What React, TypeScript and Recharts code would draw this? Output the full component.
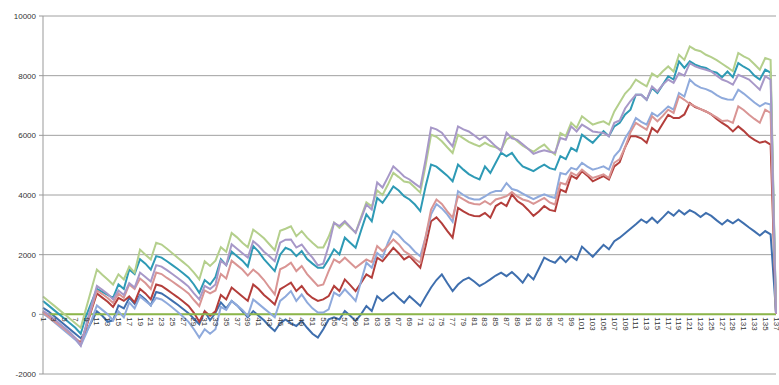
import React from 'react';
import { LineChart, Line, XAxis, YAxis, CartesianGrid } from 'recharts';

const WIDTH = 779;
const HEIGHT = 385;
const MARGIN = { top: 16, right: 3, bottom: 10, left: 0 };
const X_AXIS_HEIGHT = 1;
const Y_MIN = -2000;
const Y_MAX = 10000;
const Y_TICKS = [-2000, 0, 2000, 4000, 6000, 8000, 10000];
// the category labels sit under the 0 line, like Excel's crossing axis
const PLOT_BOTTOM = HEIGHT - MARGIN.bottom - X_AXIS_HEIGHT;
const ZERO_Y = MARGIN.top + (PLOT_BOTTOM - MARGIN.top) * (Y_MAX / (Y_MAX - Y_MIN));
const FONT = "'Liberation Sans', Arial, sans-serif";

const CATEGORIES = [
  1, 2, 3, 4, 5, 6, 7, 8, 9, 10,
  11, 12, 13, 14, 15, 16, 17, 18, 19, 20,
  21, 22, 23, 24, 25, 26, 27, 28, 29, 30,
  31, 32, 33, 34, 35, 36, 37, 38, 39, 40,
  41, 42, 43, 44, 45, 46, 47, 48, 49, 50,
  51, 52, 53, 54, 55, 56, 57, 58, 59, 60,
  61, 62, 63, 64, 65, 66, 67, 68, 69, 70,
  71, 72, 73, 74, 75, 76, 77, 78, 79, 80,
  81, 82, 83, 84, 85, 86, 87, 88, 89, 90,
  91, 92, 93, 94, 95, 96, 97, 98, 99, 100,
  101, 102, 103, 104, 105, 106, 107, 108, 109, 110,
  111, 112, 113, 114, 115, 116, 117, 118, 119, 120,
  121, 122, 123, 124, 125, 126, 127, 128, 129, 130,
  131, 132, 133, 134, 135, 136, 137,
];

const BLUE = [
  220, 100, -50, -200, -350, -500, -650, -800, -600, -250,
  100, -50, -250, -200, 300, 200, 550, 350, 650, 500,
  300, 750, 700, 580, 450, 320, 180, 40, -150, -330,
  100, -200, 50, 400, 200, 450, 300, 100, -100, 110,
  -50, -200, -400, -560, -300, -170, -300, -390, -220, -450,
  -650, -780, -500, -170, -100, -170, 110, -50, -220, 0,
  280, 110, 610, 450, 600, 730, 550, 390, 610, 450,
  280, 600, 900, 1150, 1340, 1050, 780, 1000, 1150, 1230,
  1100, 950, 1050, 1170, 1300, 1400, 1280, 1420, 1250, 1060,
  1340, 1170, 1530, 1900, 1800, 1730, 1930, 1750, 1950, 1820,
  2270, 2100, 1930, 2130, 2330, 2180, 2450, 2570, 2720, 2870,
  3020, 3180, 3070, 3240, 3070, 3250, 3440, 3310, 3490, 3350,
  3490, 3400, 3260, 3400, 3300, 3150, 3010, 3160, 3050, 3180,
  3050, 2910, 2780, 2640, 2790, 2680, 60,
];

const RED = [
  90, -50, -200, -350, -500, -650, -800, -950, -450, 150,
  700, 560, 420, 250, 550, 450, 600, 400, 850, 700,
  500, 1000, 950, 830, 700, 570, 430, 280, 50, -250,
  100, -50, 100, 650, 500, 900, 750, 600, 450, 1000,
  850, 650, 500, 330, 840, 950, 1060, 780, 950, 700,
  550, 450, 500, 610, 950, 780, 1170, 980, 780, 1050,
  1340, 1230, 1900, 1780, 2000, 2230, 2050, 1840, 1950, 1750,
  1560, 2300, 3120, 3250, 3050, 2800, 2570, 3570, 3450, 3350,
  3300, 3290, 3400, 3240, 3630, 3740, 3630, 4020, 3800, 3680,
  3500, 3300, 3450, 3630, 3500, 3460, 4180, 4100, 4650, 4550,
  4800, 4650, 4460, 4550, 4630, 4520, 4960, 5100, 5600, 5970,
  5970, 5900, 5750, 6250, 6100, 6400, 6690, 6580, 6580, 6700,
  7080, 6950, 6880, 6800, 6700, 6550, 6420, 6300, 6130, 6300,
  6150, 5970, 5850, 5750, 5800, 5690, 10,
];

const ZERO_LINE = [
  0, 0, 0, 0, 0, 0, 0, 0, 0, 0,
  0, 0, 0, 0, 0, 0, 0, 0, 0, 0,
  0, 0, 0, 0, 0, 0, 0, 0, 0, 0,
  0, 0, 0, 0, 0, 0, 0, 0, 0, 0,
  0, 0, 0, 0, 0, 0, 0, 0, 0, 0,
  0, 0, 0, 0, 0, 0, 0, 0, 0, 0,
  0, 0, 0, 0, 0, 0, 0, 0, 0, 0,
  0, 0, 0, 0, 0, 0, 0, 0, 0, 0,
  0, 0, 0, 0, 0, 0, 0, 0, 0, 0,
  0, 0, 0, 0, 0, 0, 0, 0, 0, 0,
  0, 0, 0, 0, 0, 0, 0, 0, 0, 0,
  0, 0, 0, 0, 0, 0, 0, 0, 0, 0,
  0, 0, 0, 0, 0, 0, 0, 0, 0, 0,
  0, 0, 0, 0, 0, 0, 0,
];

const TEAL = [
  450, 300, 150, 0, -150, -300, -450, -650, -50, 400,
  850, 750, 650, 550, 1000, 850, 1500, 1350, 1850, 1700,
  1500, 1950, 1900, 1780, 1650, 1520, 1380, 1230, 1000, 720,
  1150, 1000, 1250, 1850, 1650, 2100, 1950, 1800, 1600, 2290,
  2100, 1850, 1650, 1450, 2000, 2230, 2150, 1950, 2120, 1850,
  1700, 1560, 1560, 1850, 2180, 2010, 2570, 2400, 2230, 2800,
  3350, 3120, 3900, 3740, 4000, 4290, 4150, 3960, 3850, 3680,
  3460, 4300, 5020, 4950, 4800, 4650, 4460, 5020, 4850, 4700,
  4600, 4520, 4960, 4740, 5080, 5420, 5300, 5410, 5150, 4960,
  4880, 4800, 4920, 5020, 4900, 4850, 5300, 5200, 5580, 5470,
  6020, 5880, 5750, 5950, 6140, 5970, 6300, 6420, 6700, 6860,
  7360, 7360, 7190, 7590, 7420, 7700, 7980, 7870, 8480, 8260,
  8480, 8370, 8300, 8260, 8150, 8100, 7950, 8140, 7950, 8420,
  8300, 8200, 8000, 7870, 8200, 8100, 40,
];

const LIGHT_BLUE = [
  30, -100, -250, -400, -550, -700, -850, -1050, -650, -200,
  300, 150, 0, -200, 100, -100, 400, 200, 600, 450,
  300, 550, 500, 370, 230, 80, -80, -250, -500, -780,
  -500, -650, -500, 250, 150, 450, 300, 150, -50, 500,
  350, 200, 50, -100, 450, 600, 780, 450, 670, 400,
  200, 60, 60, 170, 730, 620, 840, 650, 450, 1100,
  1730, 1560, 2060, 1900, 2400, 2790, 2650, 2450, 2300, 2100,
  1950, 2600, 3350, 3700, 3550, 3350, 3100, 4130, 4000, 3900,
  3850, 3850, 3950, 4070, 4130, 4130, 4400, 4200, 4150, 4050,
  3950, 3860, 3950, 4020, 3950, 3900, 4740, 4690, 4910, 4850,
  5080, 4950, 4850, 4900, 4960, 4850, 5300, 5500, 5900, 6190,
  6580, 6450, 6360, 6750, 6640, 6800, 6970, 6860, 7420, 7300,
  7870, 7700, 7600, 7550, 7470, 7350, 7250, 7200, 7190, 7530,
  7400, 7250, 7100, 6970, 7080, 7030, 60,
];

const PINK = [
  60, -80, -220, -360, -500, -650, -800, -1000, -400, 200,
  800, 680, 550, 380, 700, 550, 1000, 850, 1200, 1050,
  850, 1400, 1350, 1220, 1100, 970, 840, 700, 480, 280,
  800, 700, 800, 1350, 1200, 1800, 1650, 1500, 1300, 1500,
  1350, 1150, 900, 670, 1510, 1600, 1730, 1450, 1620, 1350,
  1150, 950, 1000, 1450, 1840, 1730, 1900, 1730, 1560, 1700,
  1840, 1750, 2290, 2120, 2300, 2510, 2350, 2120, 2000, 1850,
  1730, 2600, 3510, 3850, 3700, 3450, 3240, 3960, 3850, 3750,
  3700, 3680, 3790, 3680, 3850, 3900, 3960, 4100, 3950, 3850,
  3800, 3700, 3800, 3900, 3750, 3680, 4410, 4350, 4750, 4650,
  4850, 4700, 4570, 4630, 4690, 4570, 5080, 5200, 5600, 6100,
  6420, 6300, 6190, 6640, 6470, 6650, 6860, 6750, 7310, 7190,
  7050, 6970, 6880, 6800, 6700, 6600, 6480, 6500, 6420, 6970,
  6850, 6690, 6550, 6420, 6860, 6750, 20,
];

const LIGHT_GREEN = [
  600, 450, 300, 150, 0, -150, -300, -450, 200, 850,
  1500, 1330, 1170, 1000, 1340, 1170, 1600, 1400, 2170, 2000,
  1840, 2400, 2340, 2200, 2050, 1900, 1750, 1600, 1400, 1170,
  1780, 1620, 1800, 2250, 2100, 2730, 2580, 2400, 2250, 2840,
  2700, 2550, 2350, 2150, 2800, 2870, 2950, 2620, 2790, 2570,
  2400, 2240, 2240, 2600, 3080, 2900, 3080, 2900, 2740, 3250,
  3750, 3620, 4150, 4000, 4350, 4740, 4600, 4450, 4420, 4250,
  4080, 5000, 6020, 5950, 5800, 5600, 5410, 6020, 5900, 5780,
  5700, 5630, 5750, 5650, 5600, 5520, 5860, 5970, 5800, 5650,
  5550, 5450, 5580, 5690, 5500, 5360, 6080, 5970, 6420, 6250,
  6640, 6500, 6360, 6420, 6470, 6360, 6800, 7100, 7400, 7590,
  7870, 7750, 7640, 8070, 7960, 8150, 8310, 8140, 8700, 8530,
  8980, 8870, 8820, 8700, 8620, 8520, 8400, 8280, 8150, 8760,
  8650, 8560, 8380, 8200, 8590, 8530, 50,
];

const LAVENDER = [
  120, 0, -150, -300, -450, -600, -800, -1050, -350, 300,
  950, 820, 680, 500, 800, 650, 1050, 900, 1400, 1250,
  1100, 1650, 1600, 1480, 1350, 1220, 1080, 930, 700, 500,
  950, 850, 1000, 1800, 1650, 2350, 2200, 2050, 1900, 2450,
  2300, 2100, 1950, 1780, 2400, 2500, 2510, 2240, 2340, 2100,
  1900, 1640, 1700, 2300, 3070, 2960, 3120, 2930, 2730, 3200,
  3680, 3510, 4420, 4250, 4600, 4960, 4800, 4620, 4520, 4380,
  4250, 5200, 6260, 6200, 6090, 5850, 5630, 6300, 6200, 6130,
  6000, 5860, 5970, 5800, 5630, 5470, 6090, 5900, 5850, 5700,
  5550, 5380, 5450, 5500, 5450, 5410, 5910, 5850, 6300, 6130,
  6360, 6250, 6130, 6100, 6080, 5970, 6420, 6500, 6900, 7150,
  7360, 7360, 7190, 7640, 7470, 7700, 7870, 7760, 8090, 8000,
  8420, 8310, 8250, 8200, 8140, 8000, 7870, 7800, 7700, 8030,
  7950, 7870, 7700, 7530, 7980, 7870, 30,
];

// drawn in this order, so the last one ends up on top
const SERIES = [
  { key: 's1', values: BLUE, color: '#3F6FAE' },
  { key: 's2', values: RED, color: '#B33E3B' },
  { key: 's3', values: ZERO_LINE, color: '#8CB64A' },
  { key: 's5', values: TEAL, color: '#2E9AB5' },
  { key: 's13', values: LIGHT_BLUE, color: '#8FAADC' },
  { key: 's14', values: PINK, color: '#D99594' },
  { key: 's15', values: LIGHT_GREEN, color: '#B4CF8C' },
  { key: 's16', values: LAVENDER, color: '#A798C8' },
];

const rows = CATEGORIES.map((n, i) => {
  const row: Record<string, number> = { n };
  SERIES.forEach((s) => {
    row[s.key] = s.values[i];
  });
  return row;
});

const CategoryTick = (props: any) => {
  const { x, payload } = props;
  return (
    <g>
      <text
        x={0}
        y={0}
        transform={`translate(${x},${ZERO_Y + 3}) rotate(90)`}
        textAnchor="start"
        dominantBaseline="central"
        fontSize={8}
        fontFamily={FONT}
        fill="#333"
      >
        {payload.value}
      </text>
    </g>
  );
};

export default function App() {
  return (
    <div style={{ position: 'absolute', left: 0, top: 0, width: WIDTH, height: HEIGHT, background: '#fff' }}>
      <LineChart width={WIDTH} height={HEIGHT} data={rows} margin={MARGIN}>
        <CartesianGrid horizontal vertical={false} stroke="#A0A0A0" />
        <XAxis
          dataKey="n"
          height={X_AXIS_HEIGHT}
          axisLine={false}
          tickLine={false}
          interval={1}
          tick={<CategoryTick />}
        />
        <YAxis
          width={43}
          domain={[Y_MIN, Y_MAX]}
          ticks={Y_TICKS}
          interval={0}
          axisLine={{ stroke: '#999' }}
          tickLine={{ stroke: '#999' }}
          tickSize={4}
          tickMargin={3}
          tick={{ fontSize: 8, fontFamily: FONT, fill: '#333' }}
        />
        {SERIES.map((s) => (
          <Line
            key={s.key}
            type="linear"
            dataKey={s.key}
            stroke={s.color}
            strokeWidth={2}
            dot={false}
            isAnimationActive={false}
          />
        ))}
      </LineChart>
    </div>
  );
}
